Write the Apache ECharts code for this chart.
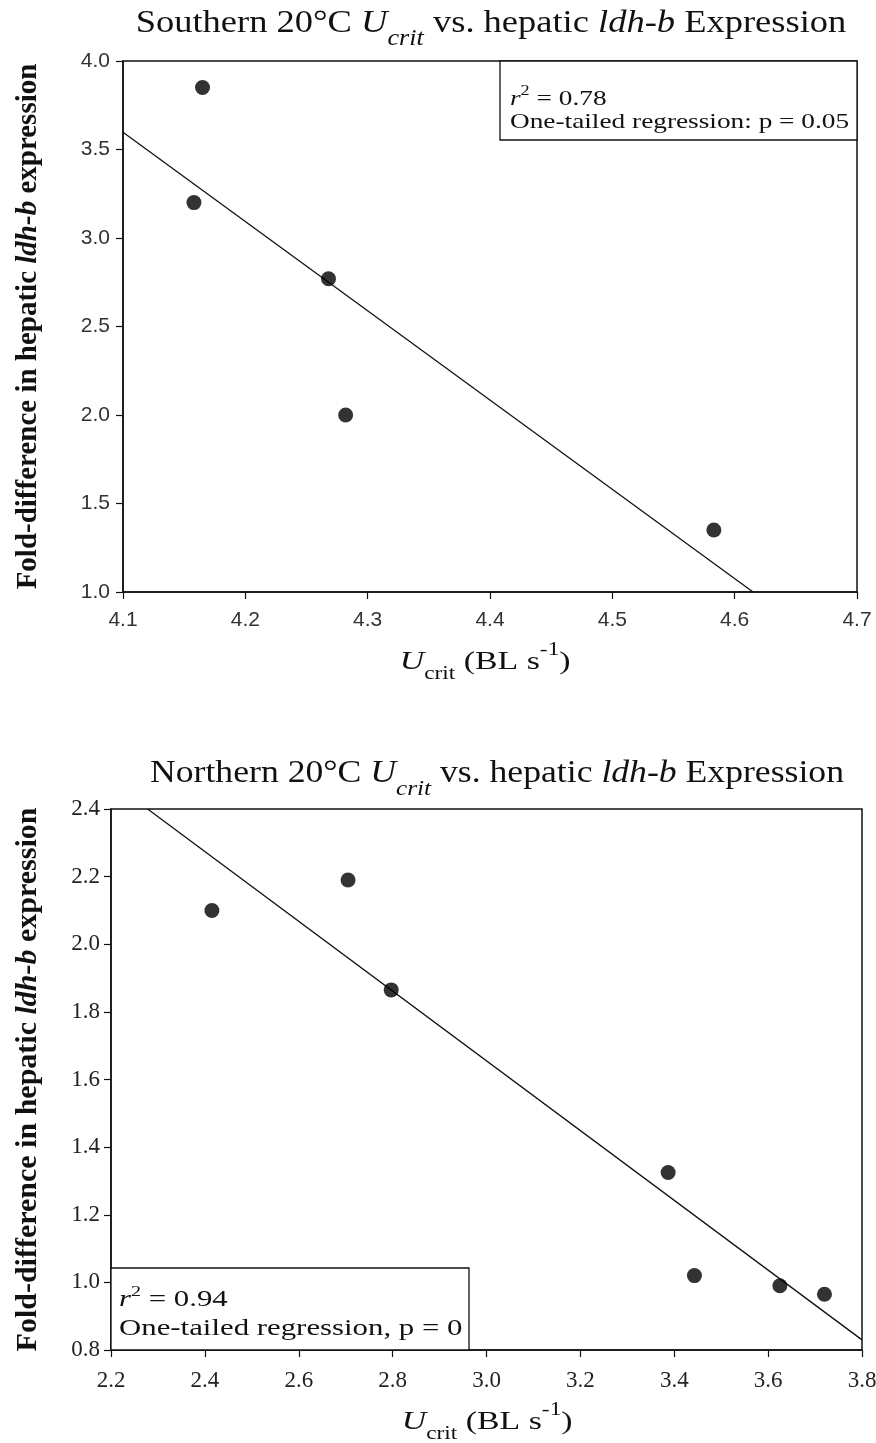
<!DOCTYPE html>
<html>
<head>
<meta charset="utf-8">
<script src="https://cdn.jsdelivr.net/npm/echarts@6/dist/echarts.min.js"></script>
<style>html,body{margin:0;padding:0;background:#fff;}#c{width:876px;height:1443px;}</style>
</head>
<body>
<div id="c"></div>
<script>
// ---- data ----
const southX = [4.165, 4.158, 4.268, 4.282, 4.583];
const southY = [3.85, 3.20, 2.77, 2.00, 1.35];
const southFitX = [4.1, 4.615];
const southFitY = [3.597, 1.0];
const southXTicks = [4.1, 4.2, 4.3, 4.4, 4.5, 4.6, 4.7];
const southYTicks = [1.0, 1.5, 2.0, 2.5, 3.0, 3.5, 4.0];

const northX = [2.415, 2.705, 2.797, 3.387, 3.443, 3.625, 3.720];
const northY = [2.10, 2.19, 1.865, 1.325, 1.02, 0.99, 0.965];
const northFitX = [2.278, 3.8];
const northFitY = [2.4, 0.83];
const northXTicks = [2.2, 2.4, 2.6, 2.8, 3.0, 3.2, 3.4, 3.6, 3.8];
const northYTicks = [0.8, 1.0, 1.2, 1.4, 1.6, 1.8, 2.0, 2.2, 2.4];

const southStats = ['0.78', 'One-tailed regression: p = 0.05'];
const northStats = ['0.94', 'One-tailed regression, p = 0'];

// ---- layout ----
const G1 = {left: 123, top: 61, width: 734, height: 531};
const G2 = {left: 111, top: 809, width: 751, height: 541};
const SERIF = '"Liberation Serif", "Times New Roman", serif';
const SANS = '"Liberation Sans", Arial, sans-serif';

const pairs = (xs, ys) => xs.map((x, i) => [x, ys[i]]);

const chart = echarts.init(document.getElementById('c'), null, {renderer: 'canvas'});

function titleRich(fs, ss) {
  return {
    n: {fontFamily: SERIF, fontSize: fs, fill: '#111', lineHeight: 42, verticalAlign: 'top'},
    i: {fontFamily: SERIF, fontSize: fs, fontStyle: 'italic', fill: '#111', lineHeight: 42, verticalAlign: 'top'},
    s: {fontFamily: SERIF, fontSize: ss, fontStyle: 'italic', fill: '#111', lineHeight: 16, verticalAlign: 'bottom'}
  };
}
function xNameRich(fs, ss) {
  return {
    i: {fontFamily: SERIF, fontSize: fs, fontStyle: 'italic', fill: '#111', lineHeight: 28, verticalAlign: 'middle'},
    n: {fontFamily: SERIF, fontSize: fs, fill: '#111', lineHeight: 28, verticalAlign: 'middle'},
    s: {fontFamily: SERIF, fontSize: ss, fill: '#111', lineHeight: 14, verticalAlign: 'bottom'},
    p: {fontFamily: SERIF, fontSize: ss, fill: '#111', lineHeight: 14, verticalAlign: 'top'},
    pad: {lineHeight: 42, fontSize: 1}
  };
}
function statRich(fs) {
  return {
    ri: {fontFamily: SERIF, fontSize: fs, fontStyle: 'italic', fill: '#111', lineHeight: 26, verticalAlign: 'bottom'},
    sup: {fontFamily: SERIF, fontSize: Math.round(fs * 0.65), fill: '#111', lineHeight: 26, verticalAlign: 'top'},
    t: {fontFamily: SERIF, fontSize: fs, fill: '#111', lineHeight: 26, verticalAlign: 'bottom'}
  };
}
function yNameRich(fs) {
  return {
    b: {fontFamily: SERIF, fontSize: fs, fontWeight: 'bold', color: '#111'},
    bi: {fontFamily: SERIF, fontSize: fs, fontWeight: 'bold', fontStyle: 'italic', color: '#111'}
  };
}
const yName = '{b|Fold-difference in hepatic }{bi|ldh-b}{b| expression}';
const xName = '{pad| }{i|U}{s|crit}{n| (BL s}{p|-1}{n|)}';

function axisCommon(font, size, col, margin) {
  return {
    axisLine: {show: true, onZero: false, lineStyle: {color: '#111', width: 1.5}},
    axisTick: {show: true, inside: false, length: 7, lineStyle: {color: '#111', width: 1.2}},
    splitLine: {show: false},
    axisLabel: {fontFamily: font, fontSize: size, color: col, margin: margin, formatter: v => v.toFixed(1)}
  };
}

function stretchedText(x, y, sx, text, rich) {
  return {type: 'text', x: x, y: y, scaleX: sx, z: 11,
          style: {text: text, rich: rich, align: 'center', verticalAlign: 'middle'}};
}
function statText(x, y, sx, text, fs) {
  return {type: 'text', x: x, y: y, scaleX: sx, z: 11,
          style: {text: text, fontFamily: SERIF, fontSize: fs, fill: '#111', verticalAlign: 'middle'}};
}

const option = {
  animation: false,
  backgroundColor: '#fff',
  grid: [
    Object.assign({show: true, borderColor: '#111', borderWidth: 1.5, containLabel: false, outerBoundsMode: 'none'}, G1),
    Object.assign({show: true, borderColor: '#111', borderWidth: 1.5, containLabel: false, outerBoundsMode: 'none'}, G2)
  ],
  xAxis: [
    Object.assign(axisCommon(SANS, 21, '#333', 18), {
      gridIndex: 0, type: 'value', min: southXTicks[0], max: southXTicks[southXTicks.length - 1], interval: 0.1
    }),
    Object.assign(axisCommon(SERIF, 23, '#222', 19), {
      gridIndex: 1, type: 'value', min: northXTicks[0], max: northXTicks[northXTicks.length - 1], interval: 0.2
    })
  ],
  yAxis: [
    Object.assign(axisCommon(SANS, 21, '#333', 13), {
      gridIndex: 0, type: 'value', min: southYTicks[0], max: southYTicks[southYTicks.length - 1], interval: 0.5,
      name: yName, nameLocation: 'middle', nameRotate: 90, nameGap: 80, nameTextStyle: {rich: yNameRich(29)}
    }),
    Object.assign(axisCommon(SERIF, 23, '#222', 11), {
      gridIndex: 1, type: 'value', min: northYTicks[0], max: northYTicks[northYTicks.length - 1], interval: 0.2,
      name: yName, nameLocation: 'middle', nameRotate: 90, nameGap: 68, nameTextStyle: {rich: yNameRich(30)}
    })
  ],
  series: [
    {type: 'scatter', xAxisIndex: 0, yAxisIndex: 0, data: pairs(southX, southY), symbol: 'circle', symbolSize: 15,
     itemStyle: {color: '#000'}, z: 5},
    {type: 'line', xAxisIndex: 0, yAxisIndex: 0, data: pairs(southFitX, southFitY), symbol: 'none',
     lineStyle: {color: '#111', width: 1.3}, z: 4},
    {type: 'scatter', xAxisIndex: 1, yAxisIndex: 1, data: pairs(northX, northY), symbol: 'circle', symbolSize: 15,
     itemStyle: {color: '#000'}, z: 5},
    {type: 'line', xAxisIndex: 1, yAxisIndex: 1, data: pairs(northFitX, northFitY), symbol: 'none',
     lineStyle: {color: '#111', width: 1.3}, z: 4}
  ],
  graphic: [
    stretchedText(491, 29, 1.14,
      '{n|Southern 20°C }{i|U}{s|crit}{n| vs. hepatic }{i|ldh-b}{n| Expression}', titleRich(32, 23)),
    stretchedText(497, 779, 1.15,
      '{n|Northern 20°C }{i|U}{s|crit}{n| vs. hepatic }{i|ldh-b}{n| Expression}', titleRich(31, 22)),
    stretchedText(485, 662, 1.3, xName, xNameRich(26, 18)),
    stretchedText(487, 1422, 1.3, xName, xNameRich(26, 18)),

    {type: 'rect', shape: {x: 500, y: G1.top, width: G1.left + G1.width - 500, height: 79},
     style: {fill: '#fff', stroke: '#111', lineWidth: 1.3}, z: 10},
    {type: 'text', x: 510, y: 97, scaleX: 1.3, z: 11,
     style: {text: '{ri|r}{sup|2}{t| = ' + southStats[0] + '}', rich: statRich(21), verticalAlign: 'middle'}},
    statText(510, 122, 1.3, southStats[1], 21),

    {type: 'rect', shape: {x: G2.left, y: 1268, width: 358, height: G2.top + G2.height - 1268},
     style: {fill: '#fff', stroke: '#111', lineWidth: 1.3}, z: 10},
    {type: 'text', x: 119, y: 1298, scaleX: 1.34, z: 11,
     style: {text: '{ri|r}{sup|2}{t| = ' + northStats[0] + '}', rich: statRich(23), verticalAlign: 'middle'}},
    statText(119, 1329, 1.34, northStats[1], 23)
  ]
};
chart.setOption(option);
</script>
</body>
</html>
